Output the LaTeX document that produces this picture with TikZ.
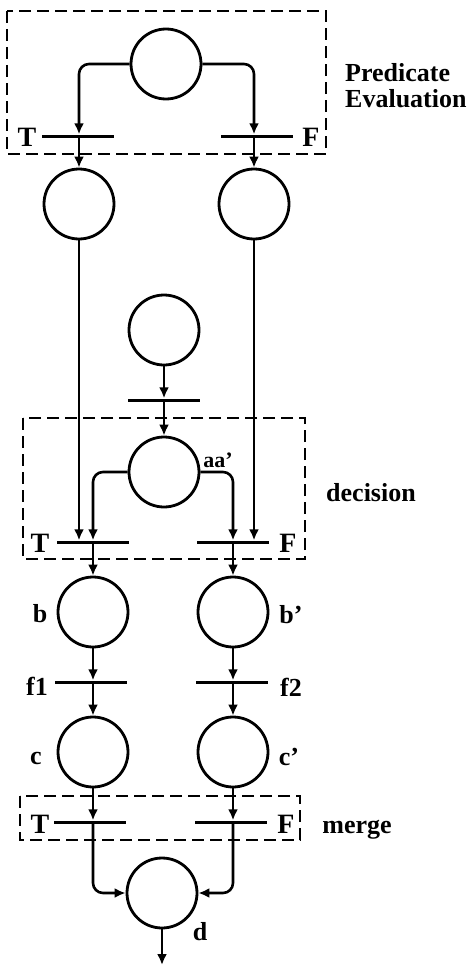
\documentclass[tikz,border=0pt]{standalone}
\usepackage{fontspec}
\setmainfont{Liberation Serif}
\usetikzlibrary{arrows.meta}
\begin{document}
\begin{tikzpicture}[x=1pt,y=-1pt,
 place/.style={circle,draw,line width=2.8pt,minimum size=70pt,inner sep=0pt},
 trans/.style={rectangle,fill=black,minimum width=72pt,minimum height=3pt,inner sep=0pt},
 arc/.style={line width=2.6pt,rounded corners=10pt,-{Latex[length=11pt,width=10pt]}},
 lab/.style={font=\fontsize{26}{26}\selectfont\bfseries,inner sep=0pt},
 tf/.style={font=\fontsize{28}{28}\selectfont\bfseries,inner sep=0pt},
 dbox/.style={draw,line width=2.4pt,dash pattern=on 12pt off 6pt}]
\useasboundingbox (0,0) rectangle (472,966);
% dashed boxes
\draw[dbox] (7,11) rectangle (326,154);
\draw[dbox] (23,418) rectangle (305,559);
\draw[dbox] (20,796) rectangle (300,840);
% places
\node[place] (p0) at (166,64) {};
\node[place] (p1L) at (79,204) {};
\node[place] (p1R) at (254,204) {};
\node[place] (p2) at (164,330) {};
\node[place] (paa) at (164,472) {};
\node[place] (pb) at (93,612) {};
\node[place] (pbp) at (233,612) {};
\node[place] (pc) at (93,752) {};
\node[place] (pcp) at (233,752) {};
\node[place] (pd) at (162,893) {};
% transitions
\node[trans] (t0L) at (78,136) {};
\node[trans] (t0R) at (257,136) {};
\node[trans] (t2) at (164,400) {};
\node[trans] (tdL) at (93,542) {};
\node[trans] (tdR) at (233,542) {};
\node[trans] (tf1) at (91,682) {};
\node[trans] (tf2) at (232,682) {};
\node[trans] (tmL) at (90,822) {};
\node[trans] (tmR) at (231,822) {};
\coordinate (out) at (162,965);
% arcs: predicate evaluation
\draw[arc] (p0.west) -| (p1L.center |- t0L.north);
\draw[arc] (p0.east) -| (p1R.center |- t0R.north);
\draw[arc] (p1L.center |- t0L.south) -- (p1L.north);
\draw[arc] (p1R.center |- t0R.south) -- (p1R.north);
% long lines to decision
\draw[arc] (p1L.south) -- (p1L.south |- tdL.north);
\draw[arc] (p1R.south) -- (p1R.south |- tdR.north);
% middle
\draw[arc] (p2.south) -- (t2.north);
\draw[arc] (t2.south) -- (paa.north);
\draw[arc] (paa.west) -| (tdL.north);
\draw[arc] (paa.east) -| (tdR.north);
% lower chain
\draw[arc] (tdL.south) -- (pb.north);
\draw[arc] (tdR.south) -- (pbp.north);
\draw[arc] (pb.south) -- (pb.south |- tf1.north);
\draw[arc] (pbp.south) -- (pbp.south |- tf2.north);
\draw[arc] (pb.south |- tf1.south) -- (pc.north);
\draw[arc] (pbp.south |- tf2.south) -- (pcp.north);
\draw[arc] (pc.south) -- (pc.south |- tmL.north);
\draw[arc] (pcp.south) -- (pcp.south |- tmR.north);
\draw[arc] (pc.south |- tmL.south) |- (pd.west);
\draw[arc] (pcp.south |- tmR.south) |- (pd.east);
\draw[arc] (pd.south) -- (out);
% labels
\node[tf] (lT0) at (27,137) {T};
\node[tf] (lF0) at (311,137) {F};
\node[lab,anchor=west,align=left] (lpred) at (345,86) {Predicate\\Evaluation};
\node[font=\fontsize{22}{22}\selectfont\bfseries,inner sep=0pt] (laa) at (218,460) {aa'};
\node[lab] (ldec) at (371,493) {decision};
\node[tf] (lTd) at (40,543) {T};
\node[tf] (lFd) at (288,543) {F};
\node[lab] (lb) at (40,614) {b};
\node[lab] (lbp) at (291,615) {b'};
\node[lab] (lf1) at (37,686) {f1};
\node[lab] (lf2) at (291,687) {f2};
\node[lab] (lc) at (36,758) {c};
\node[lab] (lcp) at (289,757) {c'};
\node[tf] (lTm) at (40,824) {T};
\node[tf] (lFm) at (286,824) {F};
\node[lab,anchor=base] (lmerge) at (357,833) {merge};
\node[lab] (ld) at (200,932) {d};
\end{tikzpicture}
\end{document}
